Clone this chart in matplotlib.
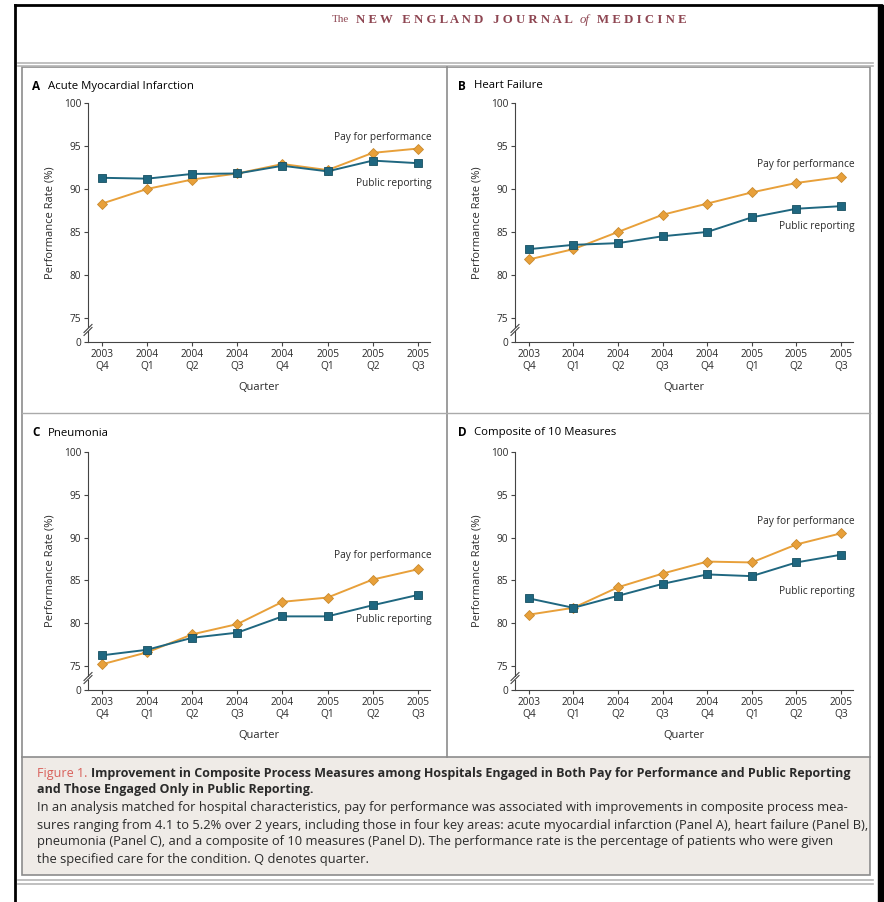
import matplotlib
matplotlib.use("Agg")
import matplotlib.pyplot as plt
from matplotlib import font_manager
from matplotlib.lines import Line2D
from matplotlib.patches import Rectangle

# ---------------- data ----------------
quarters = ["2003\nQ4", "2004\nQ1", "2004\nQ2", "2004\nQ3",
            "2004\nQ4", "2005\nQ1", "2005\nQ2", "2005\nQ3"]

ami_public = [91.3, 91.2, 91.75, 91.8, 92.7, 92.05, 93.3, 93.0]
ami_pay = [88.3, 90.0, 91.1, 91.8, 92.9, 92.2, 94.2, 94.7]
hf_public = [83.0, 83.5, 83.7, 84.5, 85.0, 86.7, 87.7, 88.0]
hf_pay = [81.8, 83.0, 85.0, 87.0, 88.3, 89.6, 90.7, 91.4]
pn_public = [76.25, 76.9, 78.3, 78.9, 80.8, 80.8, 82.1, 83.3]
pn_pay = [75.2, 76.6, 78.7, 79.9, 82.5, 83.0, 85.1, 86.3]
comp_public = [82.9, 81.8, 83.2, 84.6, 85.7, 85.5, 87.1, 88.0]
comp_pay = [81.0, 81.8, 84.2, 85.8, 87.2, 87.1, 89.2, 90.5]

panel_letters = ["A", "B", "C", "D"]
panel_titles = ["Acute Myocardial Infarction", "Heart Failure",
                "Pneumonia", "Composite of 10 Measures"]
pay_series = [ami_pay, hf_pay, pn_pay, comp_pay]
public_series = [ami_public, hf_public, pn_public, comp_public]
series_names = ["Pay for performance", "Public reporting"]
y_ticks = [75, 80, 85, 90, 95, 100]
y_tick_labels = ["75", "80", "85", "90", "95", "100"]

header_parts = [("The", "small"), ("NEW ENGLAND JOURNAL", "caps"),
                ("of", "italic"), ("MEDICINE", "caps")]
caption_fig = "Figure 1."
caption_title = ["Improvement in Composite Process Measures among Hospitals Engaged in Both Pay for Performance and Public Reporting",
                 "and Those Engaged Only in Public Reporting."]
caption_body = [
    "In an analysis matched for hospital characteristics, pay for performance was associated with improvements in composite process mea-",
    "sures ranging from 4.1 to 5.2% over 2 years, including those in four key areas: acute myocardial infarction (Panel A), heart failure (Panel B),",
    "pneumonia (Panel C), and a composite of 10 measures (Panel D). The performance rate is the percentage of patients who were given",
    "the specified care for the condition. Q denotes quarter.",
]

# ---------------- style ----------------
avail = {f.name for f in font_manager.fontManager.ttflist}


def pick(*names):
    for n in names:
        if n in avail:
            return n
    return "DejaVu Sans"


SANS = pick("Liberation Sans Narrow", "Open Sans", "Lato", "Noto Sans", "DejaVu Sans")
SERIF = pick("Liberation Serif", "DejaVu Serif")
plt.rcParams["font.family"] = [SANS, "DejaVu Sans"]

C_PUB = "#1f6780"
C_PAY = "#e8a03a"
C_AX = "#444444"
C_TXT = "#2a2a2a"
C_FRAME = "#8c8c8c"
C_HEAD = "#8e4652"

W, H = 884, 902
fig = plt.figure(figsize=(W / 100, H / 100), dpi=100)
fig.patch.set_facecolor("white")
renderer = fig.canvas.get_renderer()

# overlay in pixel coordinates for frame / captions
ov = fig.add_axes([0, 0, 1, 1])
ov.set_xlim(0, W)
ov.set_ylim(H, 0)
ov.axis("off")
ov.set_zorder(-1)

# outer black border
ov.add_line(Line2D([15, 15], [5, H], color="black", lw=2))
ov.add_line(Line2D([15, 881], [5, 5], color="black", lw=2))
ov.add_patch(Rectangle((878, 5), 6, H - 5, color="black"))

# header (letter-spaced serif)
prev = None
for txt, kind in header_parts:
    if kind == "caps":
        s = "   ".join(" ".join(w) for w in txt.split(" "))
        kw = dict(fontsize=9.2, weight="bold")
    elif kind == "italic":
        s = txt
        kw = dict(fontsize=9.2, style="italic")
    else:
        s = txt
        kw = dict(fontsize=8)
    if prev is None:
        prev = ov.text(332, 20, s, family=SERIF, color=C_HEAD, ha="left", va="center", **kw)
    else:
        prev = ov.annotate(s, xy=(1, 0.5), xycoords=prev, xytext=(5, 0),
                           textcoords="offset points", family=SERIF, color=C_HEAD,
                           ha="left", va="center", **kw)

# gray double lines
for y in (63, 66):
    ov.add_line(Line2D([18, 873], [y, y], color="#b5b5b5", lw=1.2))
for y in (880, 884):
    ov.add_line(Line2D([18, 873], [y, y], color="#b5b5b5", lw=1.2))

# panel frame and caption box
ov.add_patch(Rectangle((22, 757), 848, 118, facecolor="#efebe7", edgecolor="none"))
ov.add_patch(Rectangle((22, 67), 848, 808, facecolor="none", edgecolor=C_FRAME, lw=1.2))
ov.add_line(Line2D([447, 447], [67, 757], color=C_FRAME, lw=1.2))
ov.add_line(Line2D([22, 870], [413, 413], color="#aaaaaa", lw=1.0))
ov.add_line(Line2D([22, 870], [757, 757], color=C_FRAME, lw=1.2))

# panel axes (pixel boxes: left, top, right, bottom)
boxes = [(88, 103, 430, 342), (515, 103, 853, 342),
         (88, 452, 430, 690), (515, 452, 853, 690)]
title_pos = [(32, 86), (458, 86), (32, 433), (458, 433)]
pay_label_y = [96.0, 92.9, 87.9, 91.9]
pub_label_y = [90.6, 85.6, 80.4, 83.7]

Y_ZERO = 72.2
x = list(range(len(quarters)))

for i in range(4):
    l, t, r, b = boxes[i]
    ax = fig.add_axes([l / W, 1 - b / H, (r - l) / W, (b - t) / H])
    ax.set_facecolor("none")
    ax.plot(x, pay_series[i], color=C_PAY, lw=1.4, marker="D", ms=5,
            mfc=C_PAY, mec="#c88a2e", mew=0.6, zorder=3, clip_on=False)
    ax.plot(x, public_series[i], color=C_PUB, lw=1.4, marker="s", ms=5.2,
            mfc=C_PUB, mec="#174f60", mew=0.6, zorder=4, clip_on=False)
    ax.set_xlim(-0.31, 7.27)
    ax.set_ylim(Y_ZERO, 100)
    ax.set_yticks([Y_ZERO] + y_ticks)
    ax.set_yticklabels(["0"] + y_tick_labels)
    ax.set_xticks(x)
    ax.set_xticklabels(quarters, linespacing=1.15)
    for s in ("top", "right"):
        ax.spines[s].set_visible(False)
    for s in ("left", "bottom"):
        ax.spines[s].set_color(C_AX)
        ax.spines[s].set_linewidth(0.8)
    ax.tick_params(direction="out", length=3, width=0.8, color=C_AX,
                   labelsize=7.3, labelcolor=C_TXT, pad=2)
    ax.set_ylabel("Performance Rate (%)", fontsize=8, color=C_TXT, labelpad=6)
    ax.set_xlabel("Quarter", fontsize=8, color=C_TXT, labelpad=7)

    ax.text(7.3, pay_label_y[i], series_names[0], ha="right", va="center",
            fontsize=7.3, color=C_TXT)
    ax.text(7.3, pub_label_y[i], series_names[1], ha="right", va="center",
            fontsize=7.3, color=C_TXT)

    # axis break marker
    ph = b - t
    yb = (73.6 - Y_ZERO) / (100 - Y_ZERO)
    dx, dy = 4 / (r - l), 4 / ph
    gap = 3 / ph
    ax.add_patch(Rectangle((-0.01, yb - gap / 2), 0.02, gap, transform=ax.transAxes,
                           facecolor="white", edgecolor="none", clip_on=False, zorder=5))
    for off in (-gap / 2, gap / 2):
        ax.add_line(Line2D([-dx, dx], [yb + off - dy, yb + off + dy], transform=ax.transAxes,
                           color=C_AX, lw=0.8, clip_on=False, zorder=6))

    tx, ty = title_pos[i]
    ov.text(tx, ty, panel_letters[i], fontsize=8.5, weight="bold", color="black",
            ha="left", va="center")
    ov.text(tx + 16, ty, panel_titles[i], fontsize=8.2, color="black",
            ha="left", va="center")

# caption
t_fig = ov.text(37, 773, caption_fig + " ", fontsize=8.6, color="#d9605a",
                ha="left", va="center")
t_ttl = ov.annotate(caption_title[0], xy=(1, 0.5), xycoords=t_fig, fontsize=8.6,
                    weight="bold", color=C_TXT, ha="left", va="center")
t_ttl2 = ov.text(37, 790, caption_title[1], fontsize=8.6, weight="bold", color=C_TXT,
                 ha="left", va="center")
body = [ov.text(37, 808 + 17 * k, line, fontsize=8.4, color=C_TXT, ha="left", va="center")
        for k, line in enumerate(caption_body)]

# fit caption widths to the reference's text block
w_title = (t_fig.get_window_extent(renderer).width +
           t_ttl.get_window_extent(renderer).width)
f_title = 8.6 * (846 - 37) / w_title
for tt in (t_fig, t_ttl, t_ttl2):
    tt.set_fontsize(f_title)
w_body = body[1].get_window_extent(renderer).width
f_body = 8.4 * (860 - 37) / w_body
for tt in body:
    tt.set_fontsize(f_body)

fig.savefig("out.png", dpi=100, facecolor="white")
